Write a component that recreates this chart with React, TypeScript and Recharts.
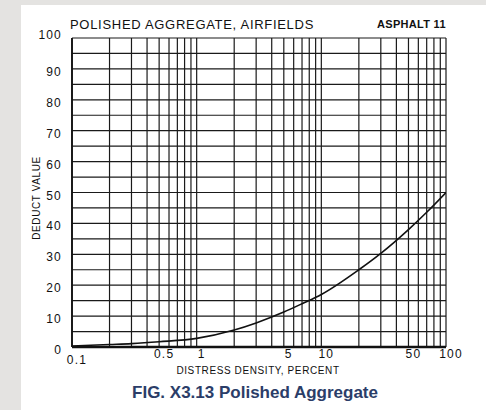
import { LineChart, Line, XAxis, YAxis, CartesianGrid } from "recharts"

// distress density (percent) vs deduct value
const density = [0.1, 0.2, 0.3, 0.5, 1, 2, 3, 5, 7, 10, 20, 30, 50, 70, 100]
const deduct = [0.3, 0.8, 1.1, 1.7, 2.8, 5.5, 7.8, 11.3, 14, 17, 25, 30.3, 38, 43.6, 50]

const xGrid = [
  0.1, 0.2, 0.3, 0.4, 0.5, 0.6, 0.7, 0.8, 0.9,
  1, 2, 3, 4, 5, 6, 7, 8, 9,
  10, 20, 30, 40, 50, 60, 70, 80, 90, 100,
]
const xLabels = [0.1, 0.5, 1, 5, 10, 50, 100]
const yGrid = [0, 5, 10, 15, 20, 25, 30, 35, 40, 45, 50, 55, 60, 65, 70, 75, 80, 85, 90, 95, 100]
const yLabels = [0, 10, 20, 30, 40, 50, 60, 70, 80, 90, 100]

const data = density.map((d, i) => ({ density: d, deduct: deduct[i] }))

const font = "'Liberation Sans', Arial, sans-serif"

function XTick({ x, y, payload }: any) {
  const v = payload.value
  if (!xLabels.includes(v)) return null
  const dy = v === 0.1 ? 5 : -1
  return (
    <text x={x + 5} y={y + dy} textAnchor="middle" dominantBaseline="central" fontSize={12} letterSpacing={1.2} fill="#111" fontFamily={font}>
      {String(v)}
    </text>
  )
}

function YTick({ x, y, payload }: any) {
  const v = payload.value
  if (!yLabels.includes(v)) return null
  return (
    <text x={x - 2} y={v === 100 ? y - 3 : y + 3} textAnchor="end" dominantBaseline="central" fontSize={12} letterSpacing={1.2} fill="#111" fontFamily={font}>
      {v}
    </text>
  )
}

export default function App() {
  return (
    <div style={{ position: "absolute", left: 0, top: 0, width: 486, height: 410, background: "#e4e3e1", overflow: "hidden" }}>
      <div style={{ position: "absolute", left: 21, top: 5, width: 465, height: 405, background: "#fff" }} />
      <div style={{ position: "absolute", left: 0, top: 0 }}>
        <LineChart width={486} height={410} data={data} margin={{ top: 38, right: 40, bottom: 43, left: 32 }}>
          <CartesianGrid stroke="#1a1a1a" strokeWidth={1.2} />
          <XAxis
            dataKey="density"
            type="number"
            scale="log"
            domain={[0.1, 100]}
            ticks={xGrid}
            interval={0}
            height={20}
            axisLine={{ stroke: "#111", strokeWidth: 2.5 }}
            tickLine={false}
            tick={<XTick />}
            allowDataOverflow
          />
          <YAxis
            type="number"
            domain={[0, 100]}
            ticks={yGrid}
            interval={0}
            width={40}
            axisLine={{ stroke: "#111", strokeWidth: 1.8 }}
            tickLine={false}
            tick={<YTick />}
          />
          <Line dataKey="deduct" type="monotone" stroke="#111" strokeWidth={1.6} dot={false} isAnimationActive={false} />
        </LineChart>
      </div>
      <div style={{ position: "absolute", left: 70, top: 17, fontFamily: font, fontSize: 13, letterSpacing: 0.7, color: "#111", whiteSpace: "nowrap", lineHeight: "16px" }}>
        POLISHED AGGREGATE, AIRFIELDS
      </div>
      <div style={{ position: "absolute", left: 377, top: 18, fontFamily: font, fontSize: 11, fontWeight: 700, letterSpacing: 0.3, color: "#111", whiteSpace: "nowrap", lineHeight: "13px" }}>
        ASPHALT 11
      </div>
      <div style={{ position: "absolute", left: 0, width: 516, top: 364, textAlign: "center", fontFamily: font, fontSize: 10, letterSpacing: 0.6, color: "#111", whiteSpace: "nowrap", lineHeight: "14px" }}>
        DISTRESS DENSITY, PERCENT
      </div>
      <div style={{ position: "absolute", left: 37, top: 198, transform: "translate(-50%, -50%) rotate(-90deg)", fontFamily: font, fontSize: 10, letterSpacing: 0.6, color: "#111", whiteSpace: "nowrap", lineHeight: "12px" }}>
        DEDUCT VALUE
      </div>
      <div style={{ position: "absolute", left: 0, width: 510, top: 382, textAlign: "center", fontFamily: font, fontSize: 17, fontWeight: 700, color: "#2b3d68", whiteSpace: "nowrap", lineHeight: "22px" }}>
        FIG. X3.13 Polished Aggregate
      </div>
    </div>
  )
}
